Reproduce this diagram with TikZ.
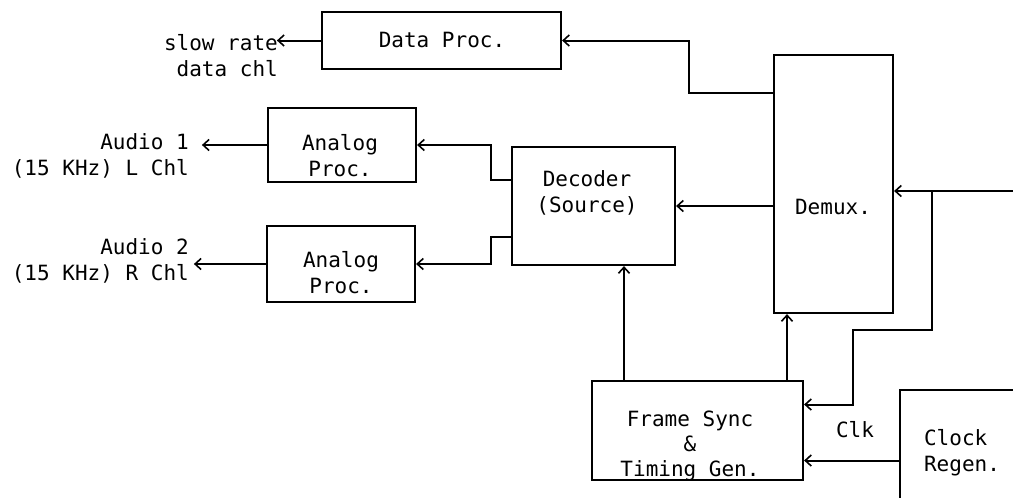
\documentclass[tikz,border=0pt]{standalone}
\usepackage{fontspec}
\setmainfont{DejaVu Sans Mono}
\usetikzlibrary{arrows.meta}
\begin{document}
\begin{tikzpicture}[x=1pt,y=-1pt,
  box/.style={draw, line width=2.2pt, inner sep=0pt},
  lbl/.style={inner sep=0pt, font=\fontsize{21pt}{26pt}\selectfont},
  arr/.style={line width=2pt, -{Straight Barb[length=6pt,width=11pt,line width=1.6pt]}},
  wire/.style={line width=2pt}]
\clip (0,0) rectangle (1013,498);
\fill[white] (0,0) rectangle (1013,498);
% boxes
\node[box, minimum width=239pt, minimum height=57pt] (dp) at (441.5,40.5) {};
\node[box, minimum width=148pt, minimum height=74pt] (an1) at (342,145) {};
\node[box, minimum width=148pt, minimum height=76pt] (an2) at (341,264) {};
\node[box, minimum width=163pt, minimum height=118pt] (dec) at (593.5,206) {};
\node[box, minimum width=119pt, minimum height=258pt] (dmx) at (833.5,184) {};
\node[box, minimum width=211pt, minimum height=99pt] (fs) at (697.5,430.5) {};
\node[box, minimum width=124pt, minimum height=126pt] (clk) at (962,453) {};
% texts
\node[lbl] (tdp) at (442,40) {Data Proc.};
\node[lbl, align=center] (tan1) at (340,156) {Analog\\Proc.};
\node[lbl, align=center] (tan2) at (341,273) {Analog\\Proc.};
\node[lbl, align=center] (tdec) at (587,193) {Decoder\\(Source)};
\node[lbl] (tdmx) at (833,207) {Demux.};
\node[lbl, align=center, font=\fontsize{21pt}{25pt}\selectfont] (tfs) at (690,446) {Frame Sync\\\&\\Timing Gen.};
\node[lbl, align=left] (tclk) at (962,453) {Clock\\Regen.};
\node[lbl] (tck) at (855,430) {Clk};
\node[lbl, align=right, anchor=east] (tslow) at (278,56) {slow rate\\data chl};
\node[lbl, align=right, anchor=east] (ta1) at (189,156) {Audio 1\\(15 KHz) L Chl};
\node[lbl, align=right, anchor=east] (ta2) at (189,261) {Audio 2\\(15 KHz) R Chl};
% connectors
\draw[arr] ([yshift=91pt]dmx.west) -- ++(-84,0) |- (dp.east);
\draw[arr] (dmx.west |- dec.east) -- (dec.east);
\draw[arr] ([yshift=26pt]dec.west) -- ++(-20,0) |- (an1.east);
\draw[arr] ([yshift=-31pt]dec.west) -- ++(-20,0) |- (an2.east);
\draw[arr] (an1.west) -- ++(-65,0);
\draw[arr] (an2.west) -- ++(-72,0);
\draw[arr] (dp.west) -- ++(-44,0);
\coordinate (in) at (1013,191);
\coordinate (br) at (932,191);
\draw[arr] (in) -- (dmx.east |- in);
\draw[arr] (br) -- ++(0,139) -- ++(-79,0) |- ([yshift=26pt]fs.east);
\coordinate (fsclk) at ([yshift=-30pt]fs.east);
\draw[arr] (clk.west |- fsclk) -- (fsclk);
\coordinate (fsd) at ([xshift=-73.5pt]fs.north);
\draw[arr] (fsd) -- (fsd |- dec.south);
\coordinate (fsm) at ([xshift=89.5pt]fs.north);
\draw[arr] (fsm) -- (fsm |- dmx.south);
\end{tikzpicture}
\end{document}
